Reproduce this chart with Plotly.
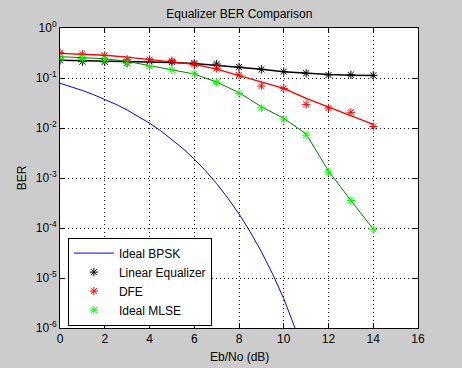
import plotly.graph_objects as go

# ---- data ----
ebno_bpsk = [0, 0.5, 1, 1.5, 2, 2.5, 3, 3.5, 4, 4.5, 5, 5.5, 6, 6.5, 7, 7.5,
             8, 8.5, 9, 9.5, 10, 10.5, 11]
ber_bpsk = [0.0786, 0.0671, 0.0563, 0.0464, 0.0375, 0.0297, 0.0229, 0.0172,
            0.0125, 0.0088, 0.00595, 0.00386, 0.00239, 0.0014, 7.73e-4, 3.98e-4,
            1.91e-4, 8.4e-5, 3.36e-5, 1.21e-5, 3.87e-6, 1.08e-6, 2.61e-7]

ebno = list(range(0, 15))

# simulated points
ber_lin = [0.225, 0.212, 0.21, 0.2, 0.215, 0.208, 0.197, 0.19, 0.166, 0.149,
           0.134, 0.124, 0.115, 0.116, 0.113]
ber_dfe = [0.321, 0.302, 0.283, 0.236, 0.233, 0.222, 0.188, 0.156, 0.115, 0.069,
           0.062, 0.0297, 0.0251, 0.0206, 0.0107]
ber_mlse = [0.247, 0.245, 0.229, 0.197, 0.169, 0.145, 0.122, 0.082, 0.049, 0.0252,
            0.0151, 0.0072, 0.00131, 3.55e-4, 9.4e-5]

# fitted curves
fit_lin = [0.226, 0.222, 0.218, 0.214, 0.21, 0.204, 0.194, 0.179, 0.165, 0.149,
           0.134, 0.124, 0.117, 0.114, 0.112]
fit_dfe = [0.31, 0.298, 0.285, 0.262, 0.236, 0.216, 0.188, 0.151, 0.112, 0.084,
           0.062, 0.039, 0.0262, 0.0174, 0.0118]
fit_mlse = [0.267, 0.258, 0.243, 0.215, 0.178, 0.145, 0.12, 0.083, 0.051, 0.0266,
            0.0156, 0.0076, 0.00138, 3.55e-4, 9.5e-5]

ytick_vals = [1e-6, 1e-5, 1e-4, 1e-3, 1e-2, 1e-1, 1]
ytick_text = ['10<sup>-6</sup>', '10<sup>-5</sup>', '10<sup>-4</sup>', '10<sup>-3</sup>',
              '10<sup>-2</sup>', '10<sup>-1</sup>', '10<sup>0</sup>']
xtick_vals = [0, 2, 4, 6, 8, 10, 12, 14, 16]

FONT = "Liberation Sans, Arial, sans-serif"

fig = go.Figure()

fig.add_trace(go.Scatter(x=ebno_bpsk, y=ber_bpsk, mode='lines', name='Ideal BPSK',
                         line=dict(color='#0000ff', width=1)))

fig.add_trace(go.Scatter(x=ebno, y=fit_lin, mode='lines', showlegend=False,
                         line=dict(color='#000000', width=1.5)))
fig.add_trace(go.Scatter(x=ebno, y=fit_dfe, mode='lines', showlegend=False,
                         line=dict(color='#ff0000', width=1.3)))
fig.add_trace(go.Scatter(x=ebno, y=fit_mlse, mode='lines', showlegend=False,
                         line=dict(color='#008000', width=1)))

for yv, name, col in [(ber_lin, 'Linear Equalizer', '#000000'),
                      (ber_dfe, 'DFE', '#ff0000'),
                      (ber_mlse, 'Ideal MLSE', '#00ff00')]:
    fig.add_trace(go.Scatter(x=ebno, y=yv, mode='markers', name=name,
                             marker=dict(symbol='asterisk-open', size=7,
                                         color=col, line=dict(color=col, width=1))))

axis_common = dict(
    showline=True, linecolor='black', linewidth=1, mirror='ticks',
    ticks='inside', ticklen=5, tickcolor='black', tickwidth=1,
    showgrid=True, gridcolor='black', gridwidth=1, griddash='1px,3px',
    zeroline=False, tickfont=dict(family=FONT, size=12, color='black'),
)

fig.update_layout(
    width=462, height=368, autosize=False,
    paper_bgcolor='#cccccc', plot_bgcolor='white',
    margin=dict(l=60, r=44, t=28, b=40),
    font=dict(family=FONT, size=12, color='black'),
    title=dict(text='Equalizer BER Comparison', x=0.518, xanchor='center',
               y=1 - 14 / 368, yanchor='middle', yref='container',
               font=dict(family=FONT, size=12, color='black')),
    xaxis=dict(range=[0, 16], tickvals=xtick_vals, **axis_common),
    yaxis=dict(type='log', range=[-6, 0], tickvals=ytick_vals, ticktext=ytick_text,
               title=dict(text='BER', standoff=6,
                          font=dict(family=FONT, size=12, color='black')),
               **axis_common),
    legend=dict(x=0.022, y=0.008, xanchor='left', yanchor='bottom',
                bgcolor='white', bordercolor='black', borderwidth=1,
                font=dict(family=FONT, size=12, color='black'),
                itemwidth=40, tracegroupgap=0),
    showlegend=True,
    annotations=[dict(text='Eb/No (dB)', xref='paper', yref='paper', x=0.5,
                      y=-29 / 300, xanchor='center', yanchor='middle',
                      showarrow=False, font=dict(family=FONT, size=12, color='black'))],
)

fig.write_html("out.html", config={'displayModeBar': False},
               post_script="document.body.style.margin='0';document.body.style.background='#cccccc';")
